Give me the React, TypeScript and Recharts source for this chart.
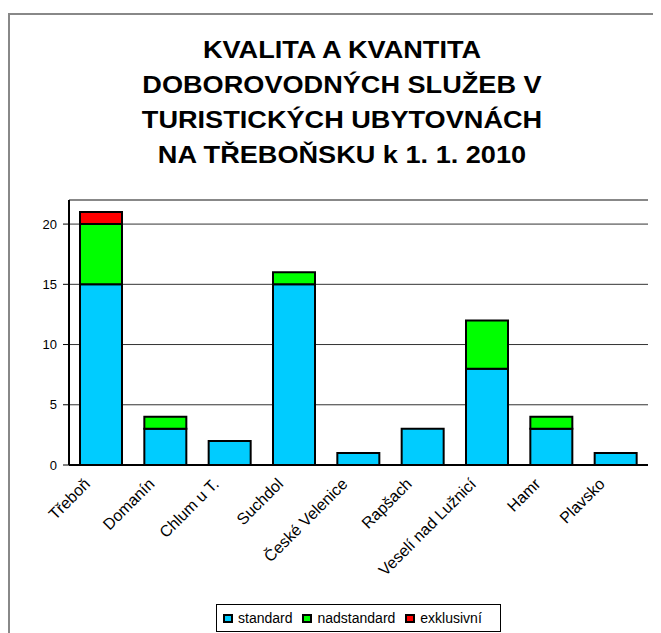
import { BarChart, Bar, XAxis, YAxis, CartesianGrid, Legend, ReferenceLine } from 'recharts'

const places = ['Třeboň', 'Domanín', 'Chlum u T.', 'Suchdol', 'České Velenice', 'Rapšach', 'Veselí nad Lužnicí', 'Hamr', 'Plavsko']
const standard = [15, 3, 2, 15, 1, 3, 8, 3, 1]
const nadstandard = [5, 1, 0, 1, 0, 0, 4, 1, 0]
const exkluzivni = [1, 0, 0, 0, 0, 0, 0, 0, 0]
const yTicks = [0, 5, 10, 15, 20]

const titleLines = ['KVALITA A KVANTITA', 'DOBOROVODNÝCH SLUŽEB V', 'TURISTICKÝCH UBYTOVNÁCH', 'NA TŘEBOŇSKU k 1. 1. 2010']

const data = places.map((place, i) => ({
    place,
    standard: standard[i],
    nadstandard: nadstandard[i],
    exklusivni: exkluzivni[i],
}))

const font = '"Liberation Sans", Arial, sans-serif'

const PlaceTick = ({ x, y, payload }: any) => (
    <text
        transform={`translate(${x - 10},${y + 18}) rotate(-45)`}
        textAnchor="end"
        fontFamily={font}
        fontSize={16}
        fill="#000"
    >
        {payload.value}
    </text>
)

const legendItems = [
    { label: 'standard', color: '#00ccff' },
    { label: 'nadstandard', color: '#00ff00' },
    { label: 'exklusivní', color: '#ff0000' },
]

const LegendBox = () => (
    <div style={{ display: 'inline-flex', alignItems: 'center', border: '1px solid #000', height: 28, padding: '0 8px 0 6px', fontFamily: font, fontSize: 14, background: '#fff', boxSizing: 'border-box' }}>
        {legendItems.map(item => (
            <span key={item.label} style={{ display: 'inline-flex', alignItems: 'center', marginRight: 10 }}>
                <span style={{ width: 6, height: 5, background: item.color, border: '2px solid #000', marginRight: 5, display: 'inline-block' }} />
                {item.label}
            </span>
        ))}
    </div>
)

const App = () => (
    <div style={{ position: 'relative', width: 653, height: 625, overflow: 'hidden' }}>
        <div style={{ position: 'absolute', left: 0, top: 5, width: 800, height: 800, border: '2px solid #888' }} />
        <div style={{ position: 'absolute', left: 34, top: 24, width: 600, textAlign: 'center', fontFamily: font, fontWeight: 'bold', fontSize: 24, lineHeight: '35px', transform: 'scaleX(1.13)' }}>
            {titleLines.map(line => <div key={line}>{line}</div>)}
        </div>
        <div style={{ position: 'absolute', left: 0, top: 0 }}>
            <BarChart width={653} height={625} data={data} margin={{ top: 192, right: 13, left: 0, bottom: 2 }} barSize={42}>
                <CartesianGrid vertical={false} stroke="#333" yAxisId="left" />
                <XAxis dataKey="place" interval={0} height={138} tick={<PlaceTick />} tickLine={false} tickSize={0} axisLine={{ stroke: '#000', strokeWidth: 2 }} />
                <YAxis yAxisId="left" domain={[0, 22]} ticks={yTicks} width={61} tickSize={6} tickMargin={6}
                    tick={{ fontFamily: font, fontSize: 13, fill: '#000' }} axisLine={{ stroke: '#000', strokeWidth: 2 }} tickLine={{ stroke: '#000' }} />
                <YAxis yAxisId="right" orientation="right" domain={[0, 22]} width={0} tick={false} tickLine={false} axisLine={{ stroke: '#888', strokeWidth: 2 }} />
                <ReferenceLine yAxisId="left" y={22} stroke="#888" strokeWidth={2} />
                <Bar yAxisId="left" dataKey="standard" name="standard" stackId="a" fill="#00ccff" stroke="#000" strokeWidth={2} isAnimationActive={false} />
                <Bar yAxisId="left" dataKey="nadstandard" name="nadstandard" stackId="a" fill="#00ff00" stroke="#000" strokeWidth={2} isAnimationActive={false} />
                <Bar yAxisId="left" dataKey="exklusivni" name="exklusivní" stackId="a" fill="#ff0000" stroke="#000" strokeWidth={2} isAnimationActive={false} />
                <Legend verticalAlign="bottom" align="left" content={<LegendBox />} wrapperStyle={{ left: 208, width: 'auto', bottom: 1 }} />
            </BarChart>
        </div>
    </div>
)

export default App
